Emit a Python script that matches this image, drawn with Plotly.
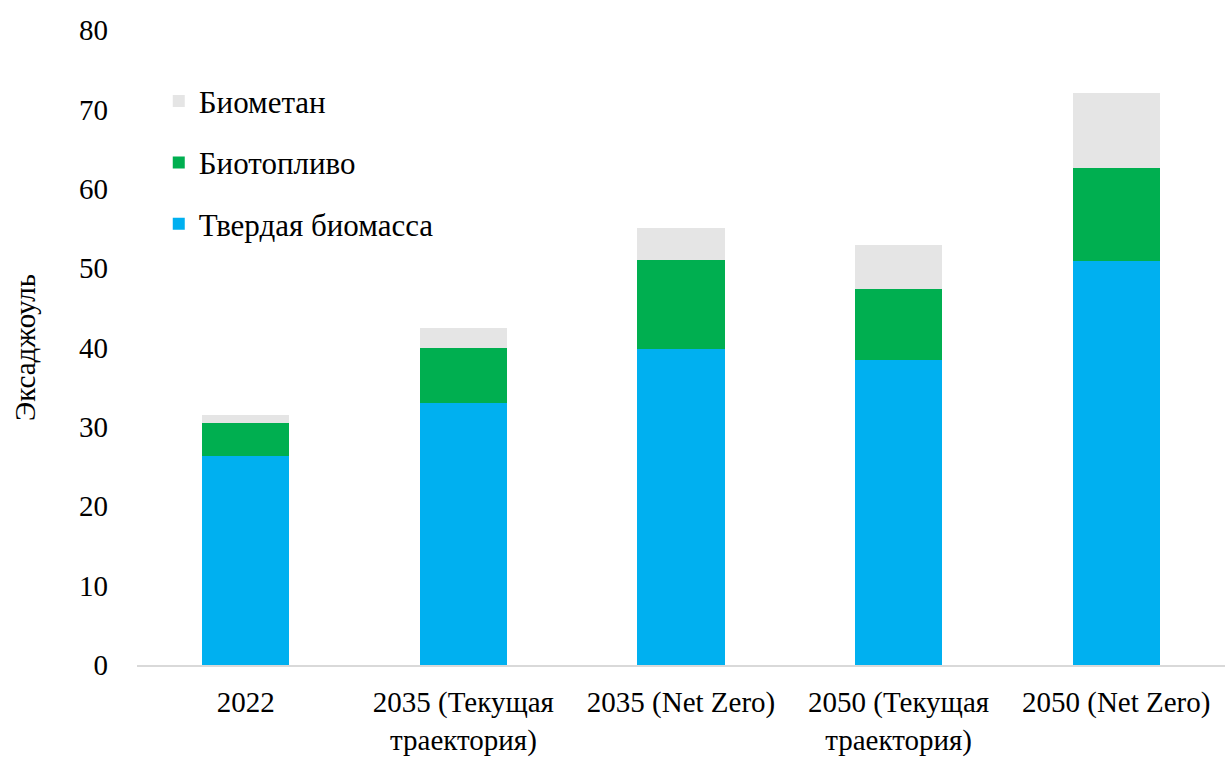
import plotly.graph_objects as go

categories = [
    "2022",
    "2035 (Текущая<br>траектория)",
    "2035 (Net Zero)",
    "2050 (Текущая<br>траектория)",
    "2050 (Net Zero)",
]
solid_biomass = [26.3, 33.0, 39.8, 38.4, 50.9]
biofuel = [4.2, 6.9, 11.2, 9.0, 11.7]
biomethane = [1.0, 2.6, 4.0, 5.5, 9.5]

# (name, values, colour, legend rank: top entry first)
series = [
    ("Твердая биомасса", solid_biomass, "#00B0F0", 3),
    ("Биотопливо", biofuel, "#00AF50", 2),
    ("Биометан", biomethane, "#E5E5E5", 1),
]

font_family = "Liberation Serif"

fig = go.Figure()
for name, values, color, rank in series:
    fig.add_trace(go.Bar(
        x=categories,
        y=values,
        name=name,
        marker=dict(color=color, line=dict(width=0)),
        legendgroup=name,
        legendrank=rank,
    ))

fig.update_layout(
    barmode="stack",
    bargap=0.6,
    width=1225,
    height=758,
    margin=dict(l=137, r=0, t=30, b=93, autoexpand=False),
    paper_bgcolor="white",
    plot_bgcolor="white",
    font=dict(family=font_family, size=30, color="black"),
    showlegend=True,
    legend=dict(
        x=0.02, y=0.93, xanchor="left", yanchor="top",
        traceorder="grouped",
        tracegroupgap=18,
        font=dict(family=font_family, size=31, color="black"),
        bgcolor="rgba(0,0,0,0)",
        itemwidth=30,
    ),
    xaxis=dict(
        showgrid=False,
        showline=True,
        linecolor="#D9D9D9",
        linewidth=2,
        ticks="",
        automargin=False,
        ticklabelstandoff=10,
        tickfont=dict(family=font_family, size=29),
    ),
    yaxis=dict(
        range=[0, 80],
        dtick=10,
        showgrid=False,
        zeroline=False,
        showline=False,
        ticks="",
        automargin=False,
        ticklabelstandoff=28,
        tickfont=dict(family=font_family, size=29),
        title=dict(text="Эксаджоуль", font=dict(family=font_family, size=29), standoff=34),
    ),
)

fig.write_html("out.html")
